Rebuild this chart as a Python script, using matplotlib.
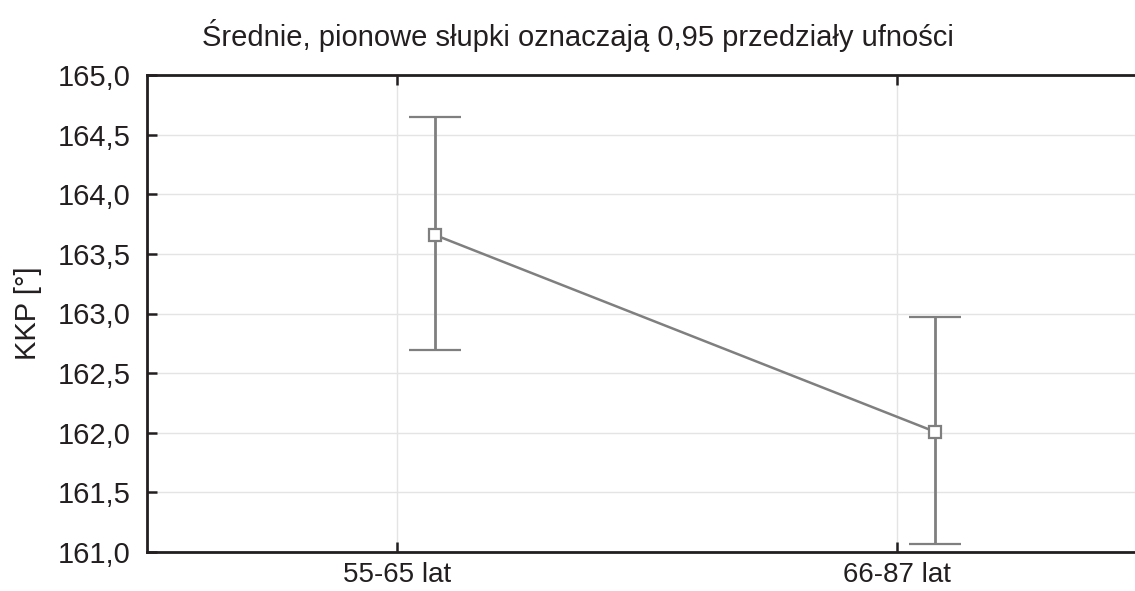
import numpy as np
import matplotlib
matplotlib.use("Agg")
import matplotlib.pyplot as plt

# data
groups = ["55-65 lat", "66-87 lat"]
means = [163.66, 162.01]
ci_low = [162.69, 161.07]
ci_high = [164.645, 162.97]

title = "Średnie, pionowe słupki oznaczają 0,95 przedziały ufności"
ylabel = "KKP [°]"
yticks = [161.0, 161.5, 162.0, 162.5, 163.0, 163.5, 164.0, 164.5, 165.0]

plt.rcParams["font.family"] = ["Liberation Sans", "DejaVu Sans"]

W, H = 1135, 591
fig = plt.figure(figsize=(W / 100, H / 100), dpi=100)
ax = fig.add_axes([147 / W, 1 - 552 / H, (W - 147) / W, (552 - 75) / H])

x = np.arange(len(groups))
shift = 0.075  # points sit a bit right of the category ticks
means = np.array(means)
err = np.array([means - np.array(ci_low), np.array(ci_high) - means])

grey = "#7f7f7f"
ax.errorbar(x + shift, means, yerr=err, color=grey, lw=1.8, elinewidth=2.0,
            capsize=19, capthick=2.0, marker="s", ms=8.5, mfc="white",
            mec=grey, mew=1.6, zorder=3)

ax.set_xlim(-0.5, 1.476)
ax.set_ylim(161.0, 165.0)
ax.set_xticks(x)
ax.set_xticklabels(groups)
ax.set_yticks(yticks)
ax.set_yticklabels([f"{v:.1f}".replace(".", ",") for v in yticks])

ax.grid(True, color="#e4e4e4", lw=1.0)
ax.set_axisbelow(True)

for side in ["left", "top", "bottom"]:
    ax.spines[side].set_linewidth(2.0)
    ax.spines[side].set_color("#231f20")
ax.spines["right"].set_visible(False)

ax.tick_params(axis="both", direction="in", length=7, width=1.8,
               colors="#231f20", labelsize=21, labelcolor="#231f20")
ax.tick_params(axis="x", top=True, pad=7, labelsize=20)
ax.tick_params(axis="y", pad=12)

ax.set_ylabel(ylabel, fontsize=21, color="#231f20", labelpad=11)
fig.text(578 / W, 1 - 35 / H, title, ha="center", va="center",
         fontsize=21, color="#231f20")

fig.savefig("out.png", dpi=100)
